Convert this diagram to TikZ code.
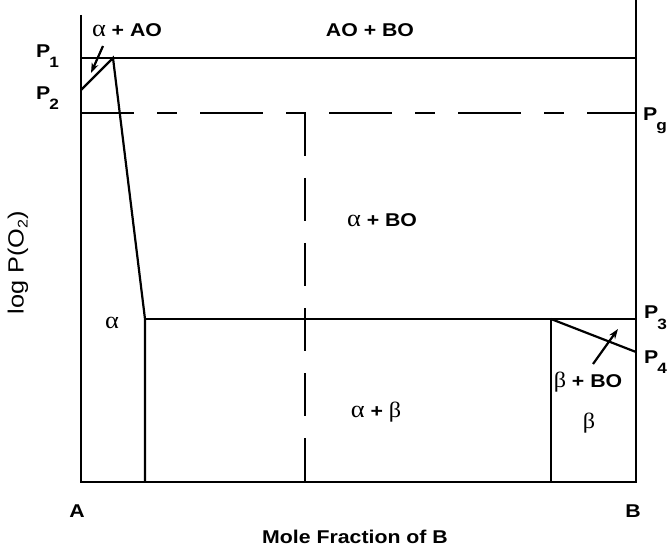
\documentclass[tikz,border=0pt]{standalone}
\usepackage{fontspec}
\setmainfont{Liberation Sans}[FakeStretch=1.15]
\newfontfamily\grk{Liberation Serif}[FakeStretch=1.1]
\usetikzlibrary{arrows.meta}
\newcommand\gal{{\grk\mdseries\fontsize{24}{24}\selectfont α}}
\newcommand\gbe{{\grk\mdseries\fontsize{22}{22}\selectfont β}}
\newcommand\lsub[1]{\kern-1pt\raisebox{-10pt}{\fontsize{15}{15}\selectfont #1}}
\tikzset{
  lab/.style={font=\fontsize{18.5}{18.5}\selectfont\bfseries, inner sep=0pt, anchor=base},
  plab/.style={lab, anchor=base west},
  phase/.style={line width=2.2pt, line join=miter},
  dashh/.style={line width=2.2pt, dash pattern=on 63pt off 23pt on 20pt off 23pt, dash phase=10pt},
  dashv/.style={line width=2.2pt, dash pattern=on 43pt off 22pt},
  pointer/.style={line width=2.2pt, -{Stealth[length=10pt,width=7pt]}}
}
\begin{document}
\begin{tikzpicture}[x=1pt,y=-1pt]
\useasboundingbox (0,0) rectangle (667,548);
% frame coordinates
\coordinate (lt) at (81,15);
\coordinate (lb) at (81,482);
\coordinate (rt) at (636,0);
\coordinate (rb) at (636,482);
\coordinate (p1l) at (81,58);
\coordinate (p1r) at (636,58);
\coordinate (p2) at (81,90);
\coordinate (tip) at (113,58);
\coordinate (ak) at (145,319);
\coordinate (akb) at (145,482);
\coordinate (p3) at (636,319);
\coordinate (bk) at (551,319);
\coordinate (bkb) at (551,482);
\coordinate (p4) at (636,352);
\coordinate (pgl) at (81,113);
\coordinate (pgr) at (636,113);
\coordinate (dv) at (305,113);
\coordinate (dvb) at (305,482);
% solid lines
\draw[phase] (lt) -- (lb) -- (rb) -- (rt);
\draw[phase] (p1l) -- (p1r);
\draw[phase] (p2) -- (tip) -- (ak) -- (akb);
\draw[phase] (ak) -- (p3);
\draw[phase] (bk) -- (bkb);
\draw[phase] (bk) -- (p4);
% dashed lines
\draw[dashh] (pgl) -- (pgr);
\draw[dashv] (dv) -- (dvb);
% pointers
\coordinate (a1s) at (103,46);
\coordinate (a1e) at (91,73);
\draw[pointer] (a1s) -- (a1e);
\coordinate (a2s) at (593,364);
\coordinate (a2e) at (618,329);
\draw[pointer] (a2s) -- (a2e);
% labels
\node[lab] (tAAO) at (127,37) {\gal\ + AO};
\node[lab] (tAOBO) at (370,37) {AO + BO};
\node[lab] (tABO) at (382,227) {\gal\ + BO};
\node[lab] (tAB) at (376,417) {\gal\ + \gbe};
\node[lab] (tA) at (112,328) {\gal};
\node[lab] (tBBO) at (588,387) {\gbe\ + BO};
\node[lab] (tB) at (589,428) {\gbe};
\node[plab] (P1) at (36,58) {P\lsub{1}};
\node[plab] (P2) at (36,100) {P\lsub{2}};
\node[plab] (Pg) at (643,121) {P\lsub{g}};
\node[plab] (P3) at (644,319) {P\lsub{3}};
\node[plab] (P4) at (644,363) {P\lsub{4}};
\node[lab] (xA) at (77,517) {A};
\node[lab] (xB) at (633,517) {B};
\node[lab] (xl) at (355,543) {Mole Fraction of B};
\node[inner sep=0pt, rotate=90, font=\fontsize{22}{22}\selectfont] (yl) at (18,263) {log P(O\raisebox{-4pt}{\fontsize{14}{14}\selectfont 2})};
\end{tikzpicture}
\end{document}
